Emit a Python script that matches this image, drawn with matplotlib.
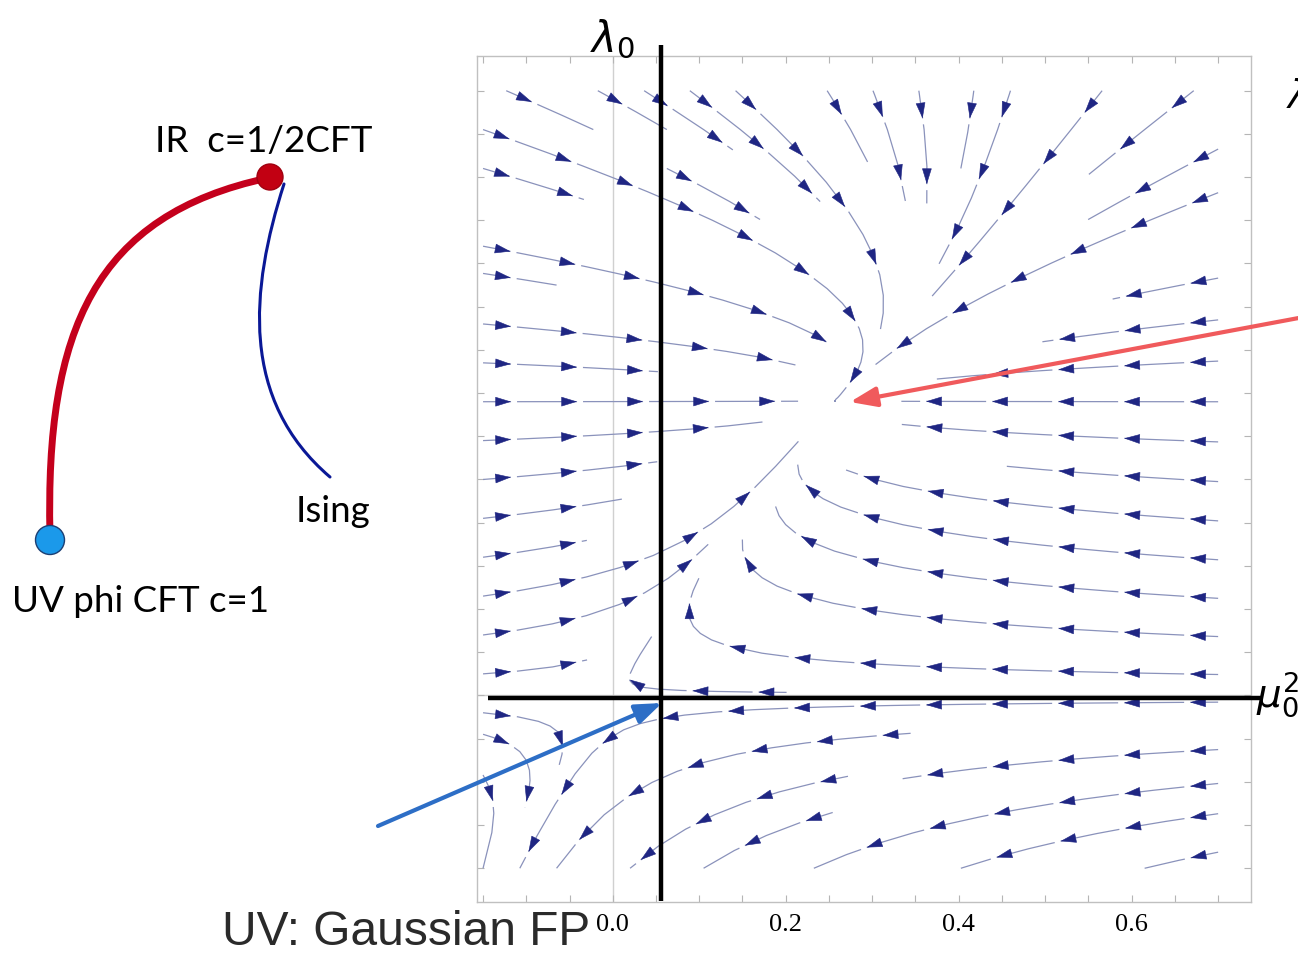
import numpy as np
import matplotlib
matplotlib.use("Agg")
import matplotlib.pyplot as plt
from matplotlib.patches import Circle, PathPatch, FancyArrowPatch
from matplotlib.path import Path
from matplotlib.collections import LineCollection
from matplotlib.ticker import FixedLocator, FuncFormatter

# ---------------- data ----------------
# RG-flow field
gaussian_fp = [0.0, 0.0]            # (mu0^2, lambda0)
ising_fp = [0.258, 0.341]           # attractive fixed point
crit_coef = [0.946, -0.556]         # critical line mu_c = c1*l + c2*l^2
flow_A = 1.0                        # mu^2 relaxation rate
flow_k = 1.0                        # lambda dependence of that rate
flow_B = 1.5                        # lambda growth rate
mu_range = [-0.15, 0.70]
lam_range = [-0.20, 0.70]
x_lim = [-0.157, 0.738]
y_lim = [-0.2387, 0.7405]
x_minor = [-0.15, -0.10, -0.05, 0.0, 0.05, 0.10, 0.15, 0.20, 0.25, 0.30,
           0.35, 0.40, 0.45, 0.50, 0.55, 0.60, 0.65, 0.70]
x_labeled = [0.0, 0.2, 0.4, 0.6]
y_minor = [-0.20, -0.15, -0.10, -0.05, 0.0, 0.05, 0.10, 0.15, 0.20, 0.25,
           0.30, 0.35, 0.40, 0.45, 0.50, 0.55, 0.60, 0.65, 0.70]

# schematic (figure pixel coordinates)
red_curve = [(50, 535), (45, 330), (95, 215), (268, 178)]
blue_curve = [(284, 184), (250, 290), (240, 400), (330, 477)]
ir_dot = (270, 177)
uv_dot = (50, 540)
black_vline = [(661, 45), (661, 901)]
black_hline = [(488, 698), (1262, 698)]
red_arrow = [(1320, 314), (850, 402)]
blue_arrow = [(378, 826), (662, 703)]

line_color = "#8a92bb"
arrow_color = "#1f2683"

# ---------------- figure ----------------
W, H = 1298, 965
fig = plt.figure(figsize=(W / 100, H / 100), dpi=100)
fig.patch.set_facecolor("white")

left_px, right_px, top_px, bot_px = 477, 1251, 55.7, 901.7
ax = fig.add_axes([left_px / W, 1 - bot_px / H, (right_px - left_px) / W,
                   (bot_px - top_px) / H])
ax.set_xlim(*x_lim)
ax.set_ylim(*y_lim)

mu = np.linspace(mu_range[0], mu_range[1], 240)
lam = np.linspace(lam_range[0], lam_range[1], 240)
M, L = np.meshgrid(mu, lam)
crit = crit_coef[0] * L + crit_coef[1] * L ** 2
U = -flow_A * (M - crit) * (1 + flow_k * L)
V = flow_B * L * (ising_fp[1] - L)

ax.axvline(0, color="#d0d0d0", lw=1.0, zorder=0)
ax.axhline(0, color="#d0d0d0", lw=1.0, zorder=0)

sp = ax.streamplot(mu, lam, U, V, density=0.72, color=line_color,
                   linewidth=0.9, arrowstyle="-", broken_streamlines=True)

# rebuild individual streamlines, then draw Mathematica-like dashes + arrows
segs = [np.asarray(s) for s in sp.lines.get_segments()]
sp.lines.remove()
for p in list(ax.patches):
    p.remove()

if all(len(s) == 2 for s in segs):
    polylines = []
    cur = [segs[0][0], segs[0][1]]
    for s in segs[1:]:
        if np.allclose(s[0], cur[-1]):
            cur.append(s[1])
        else:
            polylines.append(np.array(cur))
            cur = [s[0], s[1]]
    polylines.append(np.array(cur))
else:
    polylines = segs

px_per_unit = (right_px - left_px) / (x_lim[1] - x_lim[0])
spacing, offset, gap, head = 66.0, 28.0, 6.0, 14.0


def point_at(P, d, s):
    s = np.clip(s, 0, d[-1])
    i = int(np.clip(np.searchsorted(d, s), 1, len(d) - 1))
    t = (s - d[i - 1]) / max(d[i] - d[i - 1], 1e-12)
    return P[i - 1] + t * (P[i] - P[i - 1])


pieces = []
for P in polylines:
    P = P[np.all(np.isfinite(P), axis=1)]
    if len(P) < 2:
        continue
    d = np.concatenate([[0], np.cumsum(np.hypot(*np.diff(P, axis=0).T))]) * px_per_unit
    total = d[-1]
    tips = []
    s = offset if total > 2 * offset else total * 0.6
    while s < total - 4:
        tips.append(s)
        s += spacing
    cuts = [(t, t + gap) for t in tips]
    a = 0.0
    for (c0, c1) in cuts + [(total, total)]:
        if c0 > a:
            mask = (d > a) & (d < c0)
            pts = [point_at(P, d, a)] + list(P[mask]) + [point_at(P, d, c0)]
            pieces.append(np.array(pts))
        a = c1
    for t in tips:
        if t - head < 0:
            continue
        A = point_at(P, d, t - head)
        B = point_at(P, d, t)
        ax.add_patch(FancyArrowPatch(
            A, B, arrowstyle="-|>,head_length=0.52,head_width=0.16",
            mutation_scale=20, color=arrow_color, lw=0.4,
            shrinkA=0, shrinkB=0, zorder=3))

ax.add_collection(LineCollection(pieces, colors=line_color, linewidths=0.9, zorder=2))

ax.xaxis.set_major_locator(FixedLocator(x_minor))
ax.yaxis.set_major_locator(FixedLocator(y_minor))
ax.xaxis.set_major_formatter(FuncFormatter(
    lambda v, p: ("%.1f" % v) if any(abs(v - t) < 1e-6 for t in x_labeled) else ""))
ax.yaxis.set_major_formatter(FuncFormatter(lambda v, p: ""))
ax.tick_params(direction="in", length=5, width=0.8, color="#b5b5b5",
               top=True, right=True, labelsize=19, pad=9)
for lab in ax.get_xticklabels():
    lab.set_fontfamily("Liberation Serif")
for sname in ax.spines:
    ax.spines[sname].set_color("#c0c0c0")
    ax.spines[sname].set_linewidth(1.0)

# ---------------- overlay (schematic + annotations) ----------------
ov = fig.add_axes([0, 0, 1, 1])
ov.set_xlim(0, W)
ov.set_ylim(H, 0)
ov.axis("off")


def bezier(pts, **kw):
    codes = [Path.MOVETO, Path.CURVE4, Path.CURVE4, Path.CURVE4]
    ov.add_patch(PathPatch(Path(pts, codes), fill=False, capstyle="round", **kw))


bezier(red_curve, edgecolor="#c4001c", lw=5.0)
bezier(blue_curve, edgecolor="#0a1896", lw=2.2)
ov.add_patch(Circle(ir_dot, 13, facecolor="#c20012", edgecolor="#a00010", lw=1, zorder=5))
ov.add_patch(Circle(uv_dot, 14.5, facecolor="#1b99ea", edgecolor="#1c3f73", lw=1.0, zorder=5))

txt_font = ["Lato", "DejaVu Sans"]
ov.text(155, 152, "IR  c=1/2CFT", fontsize=26.5, family=txt_font, va="baseline")
ov.text(296, 522, "Ising", fontsize=26.5, family=txt_font, va="baseline")
ov.text(12, 612, "UV phi CFT c=1", fontsize=26.5, family=txt_font, va="baseline")
ov.text(222, 945, "UV: Gaussian FP", fontsize=34.5, family=["Liberation Sans", "DejaVu Sans"],
        color="#2a2a2a", va="baseline")

ov.plot(*zip(*black_vline), color="black", lw=3.2, solid_capstyle="butt")
ov.plot(*zip(*black_hline), color="black", lw=3.2, solid_capstyle="butt")
ov.text(612, 52, r"$\lambda_0$", fontsize=30, ha="center", va="baseline")
ov.text(1256, 708, r"$\mu_0^2$", fontsize=28, ha="left", va="baseline")
ov.text(1286, 108, r"$\lambda$", fontsize=28, ha="left", va="baseline")

ov.annotate("", xy=red_arrow[1], xytext=red_arrow[0],
            arrowprops=dict(arrowstyle="-|>,head_length=1.6,head_width=0.6",
                            color="#f05a5c", lw=3.0, shrinkA=0, shrinkB=0))
ov.annotate("", xy=blue_arrow[1], xytext=blue_arrow[0],
            arrowprops=dict(arrowstyle="-|>,head_length=1.6,head_width=0.6",
                            color="#2d6ec6", lw=3.0, shrinkA=0, shrinkB=0))

fig.savefig("out.png", dpi=100)
